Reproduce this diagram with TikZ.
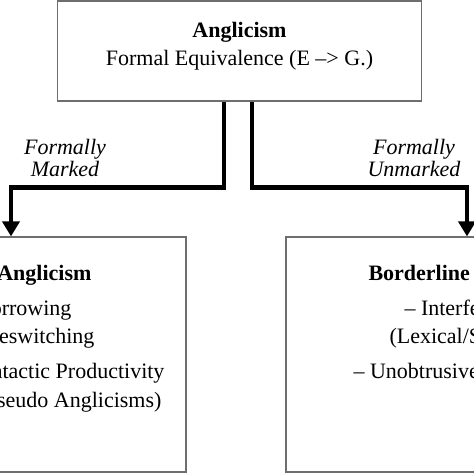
\documentclass[tikz,border=0pt]{standalone}
\usepackage{fontspec}
\setmainfont{Liberation Serif}
\usetikzlibrary{arrows.meta, positioning}
\definecolor{cframe}{HTML}{6E6E6E}
\tikzset{
  every picture/.style={x=1pt, y=-1pt},
  box/.style={draw=cframe, line width=#1, rectangle, inner sep=0pt},
  box/.default=1.2pt,
  flow/.style={-{Triangle[width=17pt, length=15pt]}, line width=4.5pt, draw=black},
  branch/.style={font=\fontsize{22}{21.5}\selectfont\itshape, align=center},
  txt/.style={font=\fontsize{22}{26}\selectfont},
}

\begin{document}
\begin{tikzpicture}
  \useasboundingbox (0,0) rectangle (474,474);
  \clip (0,0) rectangle (474,474);
  % boxes
  \node[box=1.6pt, minimum width=364pt, minimum height=100pt] (top) at (239.5,51) {};
  \node[box, minimum width=300pt, minimum height=235pt] (lbox) at (36,354.5) {};
  \node[box, minimum width=300pt, minimum height=235pt] (rbox) at (436,354.5) {};
  \node[txt, anchor=base] (head) at (239.5,37) {\textbf{Anglicism}};
  \node[txt, anchor=base] (equiv) at (239.5,65) {Formal Equivalence (E –> G.)};
  % branches
  \draw[flow] ([xshift=-15.5pt]top.south) -- ++(0,85.5) -| ([xshift=-25pt]lbox.north);
  \draw[flow] ([xshift=12.5pt]top.south) -- ++(0,85.5) -| ([xshift=31pt]rbox.north);
  \node[branch] (marked) at (65,158) {Formally\\Marked};
  \node[branch] (unmarked) at (414,158) {Formally\\Unmarked};
  % box contents
  \foreach \n/\x/\y/\t in {1/95/280/{\textbf{Anglicism}}, 2/75/315/{– Borrowing}, 3/98/343/{– Codeswitching}, 4/168/378/{– Syntactic Productivity}, 5/165/407/{(Pseudo Anglicisms)}} {
    \node[txt, anchor=base east] (l\n) at (\x,\y) {\t};
  }
  \foreach \n/\x/\y/\t in {1/365/280/{\textbf{Borderline Cases}}, 2/401/315/{– Interference}, 3/386/343/{(Lexical/Semantic)}, 4/350/378/{– Unobtrusive Borrowing}} {
    \node[txt, anchor=base west] (r\n) at (\x,\y) {\t};
  }
\end{tikzpicture}
\end{document}
